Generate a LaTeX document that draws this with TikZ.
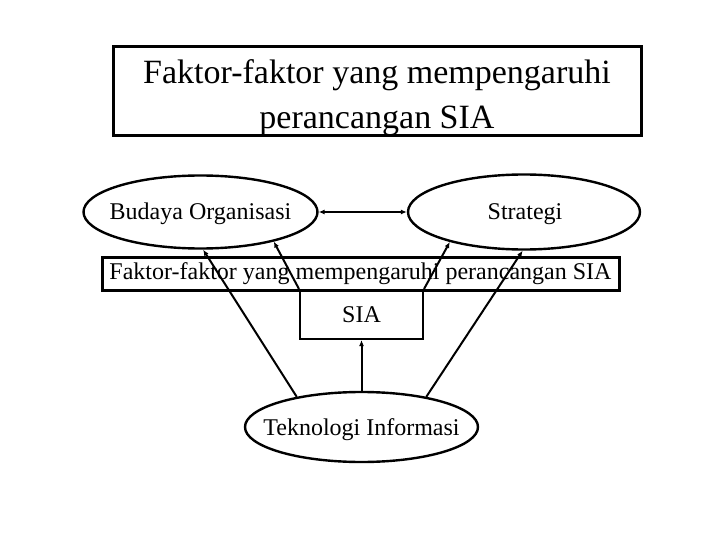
\documentclass[tikz,border=0pt]{standalone}
\usepackage{fontspec}
\setmainfont{Liberation Serif}
\usetikzlibrary{shapes.geometric,arrows.meta}
\begin{document}
\begin{tikzpicture}[x=1pt,y=-1pt,
  ell/.style={draw,ellipse,line width=2.4pt,inner sep=0pt},
  txt/.style={font=\fontsize{24}{28}\selectfont,inner sep=0pt},
  bigbox/.style={draw,rectangle,line width=3pt,inner sep=0pt,align=center},
  siabox/.style={draw,rectangle,line width=2pt,inner sep=0pt,font=\fontsize{24}{28}\selectfont},
  conn/.style={line width=2pt,-{Latex[length=6pt,width=5pt]}},
  conn2/.style={line width=2pt,{Latex[length=6pt,width=5pt]}-{Latex[length=6pt,width=5pt]}}]
\useasboundingbox[fill=white] (0,0) rectangle (720,540);
\node[bigbox,minimum width=528pt,minimum height=89pt] (title) at (377,91.5) {};
\node[align=center,font=\fontsize{34}{45}\selectfont,inner sep=0pt] (titletext) at (377,97.5) {Faktor-faktor yang mempengaruhi\\perancangan SIA};
\node[ell,minimum width=234pt,minimum height=73pt] (bud) at (200.5,212) {};
\node[txt,anchor=base] (budtext) at (200.5,220) {Budaya Organisasi};
\node[ell,minimum width=232pt,minimum height=75pt] (str) at (524,212) {};
\node[txt,anchor=base] (strtext) at (525,220) {Strategi};
\node[bigbox,minimum width=517pt,minimum height=33pt,font=\fontsize{24}{28}\selectfont] (mid) at (360.5,273.5) {Faktor-faktor yang mempengaruhi perancangan SIA};
\node[siabox,minimum width=123pt,minimum height=49pt] (sia) at (361.5,314.5) {SIA};
\node[ell,minimum width=233pt,minimum height=70pt] (tek) at (361.5,427) {};
\node[txt,anchor=base] (tektext) at (361.5,435) {Teknologi Informasi};
\draw[conn2] (bud.east) -- (str.west);
\draw[conn] (tek.155) -- (bud.-86);
\draw[conn] (sia.north west) -- (bud.-22);
\draw[conn] (sia.north east) -- (str.-158);
\draw[conn] (tek.25) -- (str.-92);
\draw[conn] (tek.north) -- (sia.south);
\end{tikzpicture}
\end{document}
